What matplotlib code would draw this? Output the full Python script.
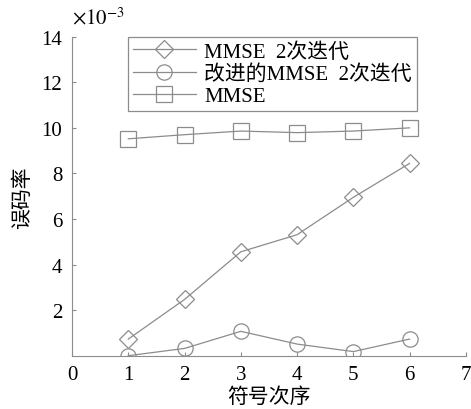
import matplotlib
matplotlib.use("Agg")
import matplotlib.pyplot as plt

plt.rcParams['font.family'] = ['Liberation Serif', 'Noto Sans CJK SC']
plt.rcParams['mathtext.fontset'] = 'stix'

x = [1, 2, 3, 4, 5, 6]
mmse2 = [0.73, 2.47, 4.56, 5.31, 6.95, 8.44]
improved = [0.0, 0.32, 1.07, 0.51, 0.18, 0.73]
mmse = [9.52, 9.70, 9.86, 9.79, 9.86, 10.0]
labels = ['MMSE  2次迭代', '改进的MMSE  2次迭代', 'MMSE']
xticks = [0, 1, 2, 3, 4, 5, 6, 7]
yticks = [2, 4, 6, 8, 10, 12, 14]

gray = '#8c8c8c'
fig = plt.figure(figsize=(4.71, 4.10), dpi=100)
ax = fig.add_axes([0.153, 0.130, 0.836, 0.778])
common = dict(color=gray, lw=0.9, mfc='none', mec=gray, mew=0.9)
ax.plot(x, mmse2, marker='D', ms=9, label=labels[0], **common)
ax.plot(x, improved, marker='o', ms=11, label=labels[1], **common)
ax.plot(x, mmse, marker='s', ms=11, label=labels[2], **common)

ax.set_xlim(0, 7)
ax.set_ylim(0, 14)
ax.set_xticks(xticks)
ax.set_yticks(yticks)
ax.tick_params(direction='in', length=3, color=gray, labelsize=15, pad=7)
for s in ['top', 'right']:
    ax.spines[s].set_visible(False)
for s in ['left', 'bottom']:
    ax.spines[s].set_color(gray)
    ax.spines[s].set_clip_on(False)
ax.set_xlabel('符号次序', fontsize=15, labelpad=2)
ax.set_ylabel('误码率', fontsize=15, labelpad=6)
fig.text(0.153, 0.928, r'$\times10^{-3}$', fontsize=15, ha='left', va='bottom')

leg = ax.legend(loc='upper left', bbox_to_anchor=(0.142, 1.0), fontsize=15,
                frameon=True, fancybox=False, edgecolor=gray, framealpha=1,
                borderpad=0.25, labelspacing=0.12, handlelength=3.0, handletextpad=0.4,
                borderaxespad=0)
leg.get_frame().set_linewidth(0.9)

fig.savefig('out.png', dpi=100)
